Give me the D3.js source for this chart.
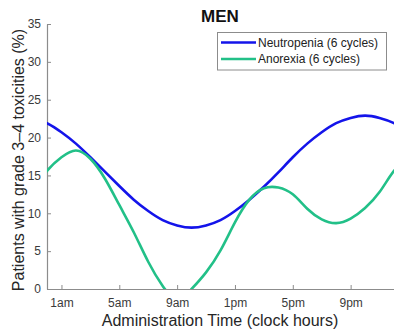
<!DOCTYPE html>
<html>
<head>
<meta charset="utf-8">
<script src="https://cdn.jsdelivr.net/npm/d3@7"></script>
<style>
  html, body { margin: 0; padding: 0; background: #fff; }
  svg { display: block; font-family: "Liberation Sans", Arial, sans-serif; }
</style>
</head>
<body>
<svg id="chart" width="394" height="330"></svg>
<script>
// Clock hour of administration (0 = midnight); the rhythm is 24 h periodic,
// so one hour either side of the day is included to keep the curve ends smooth.
const hours = [-1,0,1,2,3,4,5,6,7,8,9,10,11,12,13,14,15,16,17,18,19,20,21,22,23,24,25];
// % of patients with grade 3-4 toxicity
const neutropenia = [22.6,21.9,20.7,19.2,17.4,15.5,13.6,11.8,10.3,9.1,8.4,8.1,8.4,9.1,10.3,11.8,13.5,15.4,17.4,19.2,20.7,21.9,22.6,22.9,22.6,21.9,20.7];
const anorexia    = [12.8,15.6,17.4,18.3,17.2,14.6,11.1,7.5,3.6,0.4,-1.3,0.0,2.2,5.1,8.8,11.8,13.3,13.4,12.5,10.6,9.2,8.7,9.3,10.7,12.8,15.6,17.4];
const seriesNames = ["Neutropenia (6 cycles)", "Anorexia (6 cycles)"];
const seriesColors = ["#1414ea", "#22c088"];
const xTickValues = [1,5,9,13,17,21];
const xTickLabels = ["1am","5am","9am","1pm","5pm","9pm"];
const yTickValues = [0,5,10,15,20,25,30,35];

const svg = d3.select("#chart");
const margin = {left: 47, right: 0, top: 24, bottom: 41};
const W = 394, H = 330;

const x = d3.scaleLinear().domain([0, 24]).range([margin.left, W - margin.right]);
const y = d3.scaleLinear().domain([0, 35]).range([H - margin.bottom, margin.top]);

svg.append("defs").append("clipPath").attr("id", "plotClip")
  .append("rect")
  .attr("x", margin.left).attr("y", margin.top)
  .attr("width", W - margin.left - margin.right)
  .attr("height", H - margin.top - margin.bottom);

// Axes with inward ticks
const xAxis = svg.append("g")
  .attr("transform", `translate(0,${y(0)})`)
  .call(d3.axisBottom(x).tickValues(xTickValues)
    .tickFormat((d, i) => xTickLabels[i]).tickSizeInner(-4).tickSizeOuter(0).tickPadding(9));
const yAxis = svg.append("g")
  .attr("transform", `translate(${x(0)},0)`)
  .call(d3.axisLeft(y).tickValues(yTickValues).tickSizeInner(-4).tickSizeOuter(0).tickPadding(6));

[xAxis, yAxis].forEach(g => {
  g.select(".domain").attr("stroke", "#8c8c8c").attr("stroke-width", 1.2);
  g.selectAll(".tick line").attr("stroke", "#8c8c8c");
  g.selectAll(".tick text").attr("fill", "#3a3a3a").style("font-size", "12px");
});

// Curves
const line = d3.line()
  .x((d, i) => x(hours[i]))
  .y(d => y(d))
  .curve(d3.curveNatural);

const plot = svg.append("g").attr("clip-path", "url(#plotClip)");
[neutropenia, anorexia].forEach((vals, k) => {
  plot.append("path")
    .datum(vals)
    .attr("fill", "none")
    .attr("stroke", seriesColors[k])
    .attr("stroke-width", 2.6)
    .attr("d", line);
});

// Title
svg.append("text")
  .attr("x", 220).attr("y", 22)
  .attr("text-anchor", "middle")
  .style("font-size", "17px").style("font-weight", "bold")
  .attr("fill", "#111")
  .text("MEN");

// Axis titles
svg.append("text")
  .attr("x", 220).attr("y", 326)
  .attr("text-anchor", "middle")
  .style("font-size", "16px")
  .attr("fill", "#262626")
  .text("Administration Time (clock hours)");

svg.append("text")
  .attr("transform", `translate(24,160) rotate(-90)`)
  .attr("text-anchor", "middle")
  .style("font-size", "16px")
  .attr("fill", "#262626")
  .text("Patients with grade 3–4 toxicities (%)");

// Legend
const legend = svg.append("g");
legend.append("rect")
  .attr("x", 217.5).attr("y", 32.5).attr("width", 169).attr("height", 37.5)
  .attr("fill", "#fff").attr("stroke", "#8c8c8c").attr("stroke-width", 1);
seriesNames.forEach((name, k) => {
  const ly = 42.5 + k * 16.5;
  legend.append("line")
    .attr("x1", 221).attr("x2", 256).attr("y1", ly).attr("y2", ly)
    .attr("stroke", seriesColors[k]).attr("stroke-width", 2.6);
  legend.append("text")
    .attr("x", 258).attr("y", ly + 4.3)
    .style("font-size", "12px")
    .attr("fill", "#222")
    .text(name);
});
</script>
</body>
</html>
